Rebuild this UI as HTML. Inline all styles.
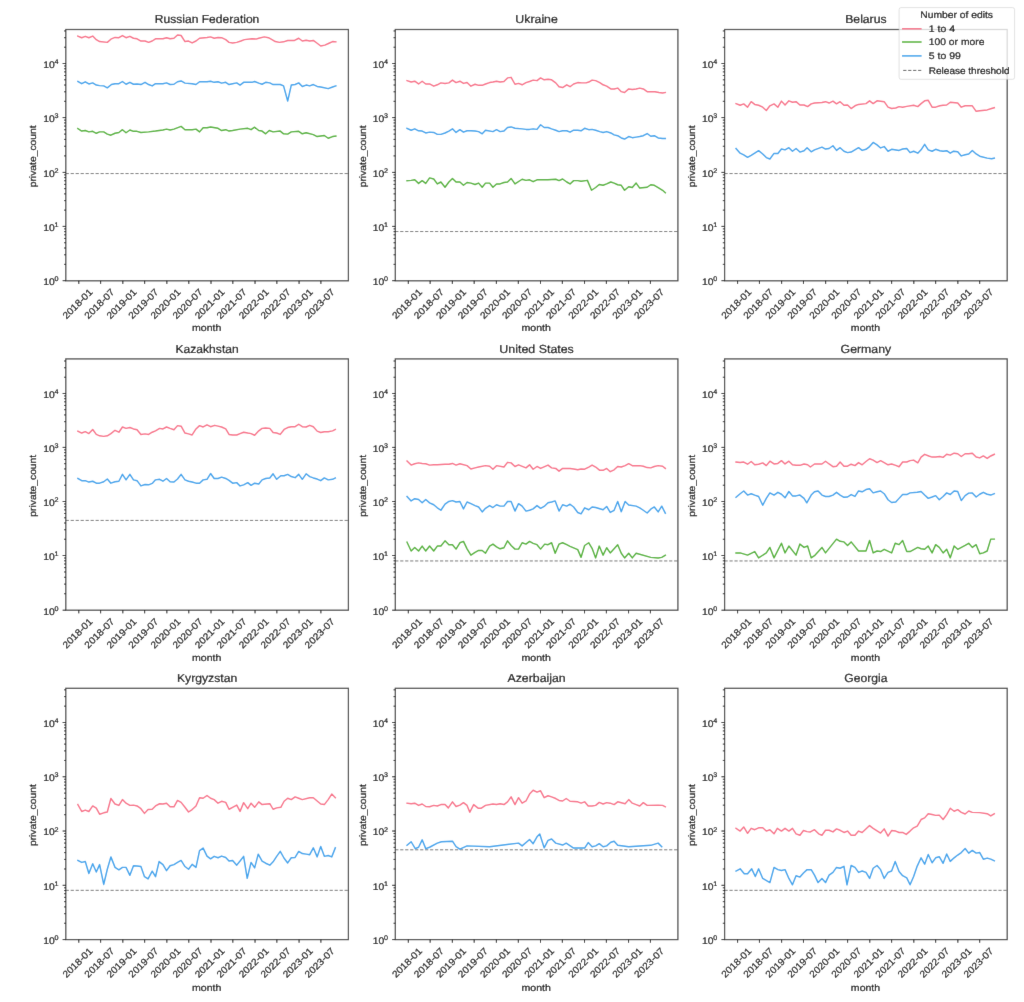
<!DOCTYPE html><html><head><meta charset="utf-8"><style>html,body{margin:0;padding:0;background:#fff;overflow:hidden}svg{display:block;will-change:transform}</style></head><body>
<svg width="1024" height="1002" viewBox="0 0 1024 1002" font-family='"Liberation Sans", sans-serif' text-rendering="geometricPrecision">
<style>text{stroke:#000;stroke-width:0.2px}</style>
<defs><filter id="sm" filterUnits="userSpaceOnUse" x="0" y="0" width="1024" height="1002"><feConvolveMatrix order="3" kernelMatrix="0.00524 0.06192 0.00524 0.06192 0.73137 0.06192 0.00524 0.06192 0.00524" preserveAlpha="false"/></filter></defs><g filter="url(#sm)">
<rect width="1024" height="1002" fill="#fff"/>
<line x1="65.8" y1="173.57" x2="348.4" y2="173.57" stroke="#666" stroke-width="0.9" stroke-dasharray="3.2 1.78" stroke-dashoffset="0.1"/>
<polyline points="77.84,36.06 81.7,37.71 85.28,36.33 88.86,37.71 92.71,36.06 96.29,39.64 99.6,41.57 107.31,42.39 111.44,38.81 115.02,37.44 118.88,37.71 122.46,35.51 126.04,37.71 129.89,36.33 133.47,38.26 137.05,38.81 140.91,41.02 145.04,41.02 148.62,42.39 152.2,41.02 155.5,38.81 162.94,38.81 166.52,37.71 170.1,38.81 173.95,38.26 177.53,34.96 181.11,35.51 184.97,41.57 188.55,41.02 192.13,42.94 195.98,41.02 199.56,38.26 207,37.44 210.58,36.88 214.16,38.26 218.02,37.44 221.6,37.71 225.73,39.64 229.03,42.39 232.61,42.94 236.74,42.39 240.87,41.02 244.45,39.64 251.89,38.81 256.02,39.09 258.77,38.26 264.28,36.88 268.41,37.71 271.99,39.64 275.3,41.57 279.43,42.39 283.56,41.84 287.69,40.46 294.57,40.46 298.71,38.26 302.29,41.02 306.14,40.19 309.72,41.02 313.3,40.46 317.16,43.22 320.74,45.97 324.87,45.15 329,43.22 332.58,41.57 335.88,41.84" fill="none" stroke="#f77189" stroke-width="1.45" stroke-linejoin="round" stroke-linecap="square"/>
<polyline points="77.84,81.5 81.7,83.7 85.28,81.77 88.86,83.98 92.71,82.88 96.29,85.08 99.6,85.63 103.73,85.9 107.31,87.83 111.44,84.53 115.02,83.7 118.88,83.7 122.46,81.5 126.04,84.25 129.89,82.32 133.47,84.25 137.05,83.98 140.91,84.53 145.04,82.32 148.62,84.53 152.2,85.9 155.5,83.7 162.94,83.7 166.52,82.88 170.1,84.53 173.95,84.25 177.53,81.77 181.11,80.95 184.97,83.15 192.13,83.7 195.98,84.53 199.56,81.77 207,81.77 210.58,81.22 214.16,82.32 218.02,81.77 221.6,83.15 225.73,82.32 229.03,84.53 232.61,83.7 236.74,82.88 240.05,85.08 243.63,82.32 251.89,82.32 254.64,81.5 258.77,83.15 262.08,84.25 265.66,82.32 269.79,82.88 273.09,84.53 280.25,84.53 283.56,85.9 287.69,101.05 291.27,85.08 295.12,84.53 298.71,82.88 302.29,86.46 306.14,85.08 309.72,85.9 313.3,84.53 317.16,86.46 320.74,87.01 328.17,88.66 332.58,87.01 335.88,85.9" fill="none" stroke="#3ba3ec" stroke-width="1.45" stroke-linejoin="round" stroke-linecap="square"/>
<polyline points="77.84,128.59 81.7,131.07 85.28,130.52 88.86,131.89 92.71,131.34 96.29,133.27 99.6,131.89 103.73,131.89 107.31,134.1 110.89,135.2 115.02,133.27 118.88,132.45 122.46,129.69 126.04,132.72 129.89,129.97 133.47,131.34 137.05,131.34 140.91,132.45 148.62,131.89 155.5,131.07 162.94,129.97 166.52,129.14 170.1,129.97 173.95,129.14 181.11,126.39 184.97,129.69 192.13,129.69 195.98,129.14 199.56,131.89 203.14,127.76 207,127.76 210.58,126.94 218.02,128.31 221.6,130.52 225.73,129.69 229.03,131.07 232.61,130.52 240.05,129.14 247.76,128.31 251.06,129.69 254.64,127.21 258.77,130.52 262.08,131.07 265.66,133.82 269.24,130.52 273.09,131.89 280.25,131.07 283.56,133.82 287.69,134.1 291.27,131.89 298.71,131.34 302.29,133.82 306.14,132.72 313.3,134.65 317.16,136.58 324.32,135.47 328.17,138.23 332.58,136.58 335.88,136.03" fill="none" stroke="#50b131" stroke-width="1.45" stroke-linejoin="round" stroke-linecap="square"/>
<rect x="65.8" y="29.5" width="282.6" height="251.3" fill="none" stroke="#444" stroke-width="1.25"/>
<path d="M62.64 280.7H65.8M62.64 226.39H65.8M62.64 172.4H65.8M62.64 117.6H65.8M62.64 63.51H65.8M78.8 280.8V283.96M100.63 280.8V283.96M122.83 280.8V283.96M144.66 280.8V283.96M166.86 280.8V283.96M188.81 280.8V283.96M211.01 280.8V283.96M232.84 280.8V283.96M255.04 280.8V283.96M276.87 280.8V283.96M299.07 280.8V283.96M320.9 280.8V283.96" stroke="#000" stroke-width="0.95" fill="none"/>
<path d="M64 264.35H65.8M64 254.79H65.8M64 248H65.8M64 242.74H65.8M64 238.44H65.8M64 234.8H65.8M64 231.65H65.8M64 228.88H65.8M64 210.14H65.8M64 200.63H65.8M64 193.88H65.8M64 188.65H65.8M64 184.38H65.8M64 180.76H65.8M64 177.63H65.8M64 174.87H65.8M64 155.9H65.8M64 146.25H65.8M64 139.41H65.8M64 134.1H65.8M64 129.76H65.8M64 126.09H65.8M64 122.91H65.8M64 120.11H65.8M64 101.32H65.8M64 91.79H65.8M64 85.03H65.8M64 79.79H65.8M64 75.51H65.8M64 71.89H65.8M64 68.75H65.8M64 65.99H65.8M64 47.23H65.8M64 37.7H65.8M64 30.94H65.8" stroke="#000" stroke-width="0.85" fill="none"/>
<text x="43.30" y="285.10" text-anchor="start" font-size="9.57" textLength="11.49" lengthAdjust="spacingAndGlyphs" fill="#000">10</text><text x="54.40" y="281.30" text-anchor="start" font-size="6.70" textLength="4.02" lengthAdjust="spacingAndGlyphs" fill="#000">0</text><text x="43.30" y="230.79" text-anchor="start" font-size="9.57" textLength="11.49" lengthAdjust="spacingAndGlyphs" fill="#000">10</text><text x="54.40" y="226.99" text-anchor="start" font-size="6.70" textLength="4.02" lengthAdjust="spacingAndGlyphs" fill="#000">1</text><text x="43.30" y="176.80" text-anchor="start" font-size="9.57" textLength="11.49" lengthAdjust="spacingAndGlyphs" fill="#000">10</text><text x="54.40" y="173.00" text-anchor="start" font-size="6.70" textLength="4.02" lengthAdjust="spacingAndGlyphs" fill="#000">2</text><text x="43.30" y="122.00" text-anchor="start" font-size="9.57" textLength="11.49" lengthAdjust="spacingAndGlyphs" fill="#000">10</text><text x="54.40" y="118.20" text-anchor="start" font-size="6.70" textLength="4.02" lengthAdjust="spacingAndGlyphs" fill="#000">3</text><text x="43.30" y="67.91" text-anchor="start" font-size="9.57" textLength="11.49" lengthAdjust="spacingAndGlyphs" fill="#000">10</text><text x="54.40" y="64.11" text-anchor="start" font-size="6.70" textLength="4.02" lengthAdjust="spacingAndGlyphs" fill="#000">4</text><text x="0.00" y="3.30" transform="translate(77.50,303.80) rotate(-45)" text-anchor="middle" font-size="9.57" textLength="37.73" lengthAdjust="spacingAndGlyphs" fill="#000">2018-01</text><text x="0.00" y="3.30" transform="translate(99.33,303.80) rotate(-45)" text-anchor="middle" font-size="9.57" textLength="37.73" lengthAdjust="spacingAndGlyphs" fill="#000">2018-07</text><text x="0.00" y="3.30" transform="translate(121.53,303.80) rotate(-45)" text-anchor="middle" font-size="9.57" textLength="37.73" lengthAdjust="spacingAndGlyphs" fill="#000">2019-01</text><text x="0.00" y="3.30" transform="translate(143.36,303.80) rotate(-45)" text-anchor="middle" font-size="9.57" textLength="37.73" lengthAdjust="spacingAndGlyphs" fill="#000">2019-07</text><text x="0.00" y="3.30" transform="translate(165.56,303.80) rotate(-45)" text-anchor="middle" font-size="9.57" textLength="37.73" lengthAdjust="spacingAndGlyphs" fill="#000">2020-01</text><text x="0.00" y="3.30" transform="translate(187.51,303.80) rotate(-45)" text-anchor="middle" font-size="9.57" textLength="37.73" lengthAdjust="spacingAndGlyphs" fill="#000">2020-07</text><text x="0.00" y="3.30" transform="translate(209.71,303.80) rotate(-45)" text-anchor="middle" font-size="9.57" textLength="37.73" lengthAdjust="spacingAndGlyphs" fill="#000">2021-01</text><text x="0.00" y="3.30" transform="translate(231.54,303.80) rotate(-45)" text-anchor="middle" font-size="9.57" textLength="37.73" lengthAdjust="spacingAndGlyphs" fill="#000">2021-07</text><text x="0.00" y="3.30" transform="translate(253.74,303.80) rotate(-45)" text-anchor="middle" font-size="9.57" textLength="37.73" lengthAdjust="spacingAndGlyphs" fill="#000">2022-01</text><text x="0.00" y="3.30" transform="translate(275.57,303.80) rotate(-45)" text-anchor="middle" font-size="9.57" textLength="37.73" lengthAdjust="spacingAndGlyphs" fill="#000">2022-07</text><text x="0.00" y="3.30" transform="translate(297.77,303.80) rotate(-45)" text-anchor="middle" font-size="9.57" textLength="37.73" lengthAdjust="spacingAndGlyphs" fill="#000">2023-01</text><text x="0.00" y="3.30" transform="translate(319.60,303.80) rotate(-45)" text-anchor="middle" font-size="9.57" textLength="37.73" lengthAdjust="spacingAndGlyphs" fill="#000">2023-07</text>
<text x="207.10" y="23.10" text-anchor="middle" font-size="11.66" textLength="104.43" lengthAdjust="spacingAndGlyphs" fill="#000">Russian Federation</text>
<text x="206.70" y="331.10" text-anchor="middle" font-size="9.57" textLength="29.31" lengthAdjust="spacingAndGlyphs" fill="#000">month</text>
<text x="0.00" y="0.00" transform="translate(36.30,156.35) rotate(-90)" text-anchor="middle" font-size="9.57" textLength="61.92" lengthAdjust="spacingAndGlyphs" fill="#000">private_count</text>
<line x1="395.3" y1="231.54" x2="677.9" y2="231.54" stroke="#666" stroke-width="0.9" stroke-dasharray="3.2 1.78" stroke-dashoffset="0.1"/>
<polyline points="407.02,80.65 411.15,82.03 414.73,81.21 418.58,83.96 422.16,81.21 425.74,83.96 429.6,83.96 433.73,86.16 437.31,84.79 440.89,82.86 445.02,83.41 448.88,82.86 452.46,80.1 456.04,82.58 459.89,81.21 463.47,83.41 467.05,82.58 470.91,86.16 475.04,84.23 478.62,85.34 482.2,85.34 485.5,83.96 489.63,82.58 492.94,82.03 496.52,81.21 500.1,82.03 503.95,81.48 507.53,77.9 511.11,77.35 514.97,84.23 518.55,83.41 522.13,84.79 525.98,82.58 529.56,81.48 533.14,80.1 537,80.65 540.58,77.9 544.16,79.83 548.02,79.28 551.6,79.83 555.73,82.86 559.03,86.71 562.61,87.54 566.74,84.79 570.05,86.71 573.63,83.96 577.76,82.58 581.89,82.86 586.02,82.86 588.77,82.03 592.08,80.1 595.66,80.65 599.79,82.58 603.09,84.79 606.67,86.16 610.8,88.92 614.11,88.92 617.69,88.09 621.27,91.67 624.57,92.5 628.71,88.92 632.29,89.47 636.14,88.92 639.72,88.09 643.3,88.92 647.16,91.67 650.74,91.67 654.87,91.67 659,92.5 662.58,93.05 665.33,92.5" fill="none" stroke="#f77189" stroke-width="1.45" stroke-linejoin="round" stroke-linecap="square"/>
<polyline points="407.02,128.3 411.15,130.22 414.73,128.85 418.58,130.78 422.16,131.05 425.74,132.98 429.6,132.15 433.73,132.43 437.31,134.36 440.89,134.36 445.02,132.98 448.88,131.05 452.46,128.85 456.04,132.43 459.89,129.67 463.47,132.15 467.05,130.78 470.91,130.78 475.04,131.05 478.62,131.6 482.2,133.8 485.5,130.22 492.94,131.6 496.52,129.67 500.1,131.6 503.95,131.05 507.53,127.47 511.11,126.92 514.97,128.3 522.13,128.85 525.98,129.4 529.56,129.4 533.14,128.85 537,129.4 540.58,124.72 544.16,127.47 548.02,127.47 551.6,128.85 555.73,130.22 559.03,131.6 562.61,130.78 566.74,130.78 570.05,132.15 573.63,130.22 577.76,130.22 581.06,130.78 584.64,128.3 588.77,129.67 592.08,129.4 595.66,130.22 599.79,131.6 603.09,132.43 606.67,131.6 610.8,132.98 614.11,134.91 617.69,135.73 621.27,137.94 624.57,139.04 628.71,136.56 632.29,137.66 636.14,137.11 639.72,136.56 643.3,135.73 647.16,133.53 650.74,136.28 654.32,135.73 658.17,137.94 662.58,138.49 665.33,138.49" fill="none" stroke="#3ba3ec" stroke-width="1.45" stroke-linejoin="round" stroke-linecap="square"/>
<polyline points="407.02,180.62 411.15,180.35 414.73,179.79 418.58,183.38 422.16,180.62 425.74,183.38 429.6,177.87 433.73,178.97 437.31,183.93 440.89,182 445.02,187.23 448.88,182 452.46,178.42 456.04,182 459.89,182 463.47,185.3 467.05,182.55 470.91,183.1 475.04,184.48 478.62,183.1 482.2,187.23 485.5,183.1 489.63,183.1 492.94,187.23 496.52,183.93 500.1,183.93 503.95,182.55 507.53,182 511.11,178.42 514.97,183.93 522.13,179.24 525.98,180.35 529.56,179.79 533.14,181.72 537,179.79 548.02,179.79 555.73,179.24 559.03,180.62 562.61,178.97 566.74,182 570.05,183.93 573.63,180.62 577.76,180.62 581.06,181.17 587.4,180.35 591.53,190.26 595.66,187.51 599.24,184.48 603.09,185.3 606.67,183.93 610.8,182 614.11,183.1 617.69,184.75 621.27,185.3 624.57,190.26 628.71,186.68 632.29,187.51 636.14,183.1 639.72,188.06 647.16,187.23 650.74,184.75 654.32,185.3 658.17,187.51 662.58,190.26 665.33,192.74" fill="none" stroke="#50b131" stroke-width="1.45" stroke-linejoin="round" stroke-linecap="square"/>
<rect x="395.3" y="29.5" width="282.6" height="251.3" fill="none" stroke="#444" stroke-width="1.25"/>
<path d="M392.14 280.7H395.3M392.14 226.39H395.3M392.14 172.4H395.3M392.14 117.6H395.3M392.14 63.51H395.3M408.3 280.8V283.96M430.13 280.8V283.96M452.33 280.8V283.96M474.16 280.8V283.96M496.36 280.8V283.96M518.31 280.8V283.96M540.51 280.8V283.96M562.34 280.8V283.96M584.54 280.8V283.96M606.37 280.8V283.96M628.57 280.8V283.96M650.4 280.8V283.96" stroke="#000" stroke-width="0.95" fill="none"/>
<path d="M393.5 264.35H395.3M393.5 254.79H395.3M393.5 248H395.3M393.5 242.74H395.3M393.5 238.44H395.3M393.5 234.8H395.3M393.5 231.65H395.3M393.5 228.88H395.3M393.5 210.14H395.3M393.5 200.63H395.3M393.5 193.88H395.3M393.5 188.65H395.3M393.5 184.38H395.3M393.5 180.76H395.3M393.5 177.63H395.3M393.5 174.87H395.3M393.5 155.9H395.3M393.5 146.25H395.3M393.5 139.41H395.3M393.5 134.1H395.3M393.5 129.76H395.3M393.5 126.09H395.3M393.5 122.91H395.3M393.5 120.11H395.3M393.5 101.32H395.3M393.5 91.79H395.3M393.5 85.03H395.3M393.5 79.79H395.3M393.5 75.51H395.3M393.5 71.89H395.3M393.5 68.75H395.3M393.5 65.99H395.3M393.5 47.23H395.3M393.5 37.7H395.3M393.5 30.94H395.3" stroke="#000" stroke-width="0.85" fill="none"/>
<text x="372.80" y="285.10" text-anchor="start" font-size="9.57" textLength="11.49" lengthAdjust="spacingAndGlyphs" fill="#000">10</text><text x="383.90" y="281.30" text-anchor="start" font-size="6.70" textLength="4.02" lengthAdjust="spacingAndGlyphs" fill="#000">0</text><text x="372.80" y="230.79" text-anchor="start" font-size="9.57" textLength="11.49" lengthAdjust="spacingAndGlyphs" fill="#000">10</text><text x="383.90" y="226.99" text-anchor="start" font-size="6.70" textLength="4.02" lengthAdjust="spacingAndGlyphs" fill="#000">1</text><text x="372.80" y="176.80" text-anchor="start" font-size="9.57" textLength="11.49" lengthAdjust="spacingAndGlyphs" fill="#000">10</text><text x="383.90" y="173.00" text-anchor="start" font-size="6.70" textLength="4.02" lengthAdjust="spacingAndGlyphs" fill="#000">2</text><text x="372.80" y="122.00" text-anchor="start" font-size="9.57" textLength="11.49" lengthAdjust="spacingAndGlyphs" fill="#000">10</text><text x="383.90" y="118.20" text-anchor="start" font-size="6.70" textLength="4.02" lengthAdjust="spacingAndGlyphs" fill="#000">3</text><text x="372.80" y="67.91" text-anchor="start" font-size="9.57" textLength="11.49" lengthAdjust="spacingAndGlyphs" fill="#000">10</text><text x="383.90" y="64.11" text-anchor="start" font-size="6.70" textLength="4.02" lengthAdjust="spacingAndGlyphs" fill="#000">4</text><text x="0.00" y="3.30" transform="translate(407.00,303.80) rotate(-45)" text-anchor="middle" font-size="9.57" textLength="37.73" lengthAdjust="spacingAndGlyphs" fill="#000">2018-01</text><text x="0.00" y="3.30" transform="translate(428.83,303.80) rotate(-45)" text-anchor="middle" font-size="9.57" textLength="37.73" lengthAdjust="spacingAndGlyphs" fill="#000">2018-07</text><text x="0.00" y="3.30" transform="translate(451.03,303.80) rotate(-45)" text-anchor="middle" font-size="9.57" textLength="37.73" lengthAdjust="spacingAndGlyphs" fill="#000">2019-01</text><text x="0.00" y="3.30" transform="translate(472.86,303.80) rotate(-45)" text-anchor="middle" font-size="9.57" textLength="37.73" lengthAdjust="spacingAndGlyphs" fill="#000">2019-07</text><text x="0.00" y="3.30" transform="translate(495.06,303.80) rotate(-45)" text-anchor="middle" font-size="9.57" textLength="37.73" lengthAdjust="spacingAndGlyphs" fill="#000">2020-01</text><text x="0.00" y="3.30" transform="translate(517.01,303.80) rotate(-45)" text-anchor="middle" font-size="9.57" textLength="37.73" lengthAdjust="spacingAndGlyphs" fill="#000">2020-07</text><text x="0.00" y="3.30" transform="translate(539.21,303.80) rotate(-45)" text-anchor="middle" font-size="9.57" textLength="37.73" lengthAdjust="spacingAndGlyphs" fill="#000">2021-01</text><text x="0.00" y="3.30" transform="translate(561.04,303.80) rotate(-45)" text-anchor="middle" font-size="9.57" textLength="37.73" lengthAdjust="spacingAndGlyphs" fill="#000">2021-07</text><text x="0.00" y="3.30" transform="translate(583.24,303.80) rotate(-45)" text-anchor="middle" font-size="9.57" textLength="37.73" lengthAdjust="spacingAndGlyphs" fill="#000">2022-01</text><text x="0.00" y="3.30" transform="translate(605.07,303.80) rotate(-45)" text-anchor="middle" font-size="9.57" textLength="37.73" lengthAdjust="spacingAndGlyphs" fill="#000">2022-07</text><text x="0.00" y="3.30" transform="translate(627.27,303.80) rotate(-45)" text-anchor="middle" font-size="9.57" textLength="37.73" lengthAdjust="spacingAndGlyphs" fill="#000">2023-01</text><text x="0.00" y="3.30" transform="translate(649.10,303.80) rotate(-45)" text-anchor="middle" font-size="9.57" textLength="37.73" lengthAdjust="spacingAndGlyphs" fill="#000">2023-07</text>
<text x="536.60" y="23.10" text-anchor="middle" font-size="11.66" textLength="42.48" lengthAdjust="spacingAndGlyphs" fill="#000">Ukraine</text>
<text x="536.20" y="331.10" text-anchor="middle" font-size="9.57" textLength="29.31" lengthAdjust="spacingAndGlyphs" fill="#000">month</text>
<text x="0.00" y="0.00" transform="translate(365.80,156.35) rotate(-90)" text-anchor="middle" font-size="9.57" textLength="61.92" lengthAdjust="spacingAndGlyphs" fill="#000">private_count</text>
<line x1="724.6" y1="173.57" x2="1007.2" y2="173.57" stroke="#666" stroke-width="0.9" stroke-dasharray="3.2 1.78" stroke-dashoffset="0.1"/>
<polyline points="736.02,103.6 740.15,105.25 743.73,103.87 747.58,107.18 751.16,101.67 754.74,104.42 758.6,105.25 762.73,107.18 766.31,110.48 769.89,105.8 774.02,103.87 777.88,107.18 781.46,101.12 785.04,104.97 788.89,100.84 792.47,102.22 796.05,101.67 799.91,104.97 804.04,104.97 807.62,106.63 811.2,103.87 814.5,103.05 821.94,102.5 825.52,101.67 829.1,103.05 832.95,101.12 836.53,103.87 840.11,101.67 843.97,105.25 847.55,104.97 851.13,108.55 854.98,105.8 858.56,104.42 866,103.6 869.58,100.84 873.16,103.6 877.02,100.84 884.18,101.67 888.03,107.18 891.61,108.55 895.74,108 899.05,106.63 902.63,107.18 906.76,106.35 913.64,105.25 917.77,106.63 921.08,103.6 924.66,100.84 928.24,100.29 932.09,107.18 935.67,107.18 939.8,105.8 943.11,105.25 946.69,104.97 950.27,102.22 957.71,103.05 961.29,107.18 965.14,105.8 972.3,105.8 976.16,111.31 979.74,110.76 987.17,109.93 991.58,108.55 994.33,107.73" fill="none" stroke="#f77189" stroke-width="1.45" stroke-linejoin="round" stroke-linecap="square"/>
<polyline points="736.02,148.49 740.15,153.17 743.73,154.82 747.58,157.3 751.16,155.37 754.74,153.17 758.6,150.69 762.73,153.99 766.31,157.57 769.89,158.95 774.02,153.44 777.88,153.44 781.46,149.04 785.04,149.86 788.89,147.66 792.47,151.24 796.05,148.49 799.91,152.07 804.04,150.69 807.07,147.66 811.2,151.79 814.5,149.86 821.94,147.11 825.52,149.04 829.1,148.49 832.95,145.73 836.53,150.41 840.11,147.66 843.97,151.24 847.55,152.62 851.13,152.07 858.56,147.66 862.14,150.41 866,149.31 869.58,146.56 873.16,142.43 877.02,144.91 880.6,147.94 884.18,146.56 888.03,151.24 891.61,149.31 899.05,150.41 902.63,149.04 906.76,148.49 910.06,152.62 913.64,151.24 917.77,153.17 921.08,149.86 924.66,144.36 928.24,149.86 932.09,151.24 935.67,149.31 939.8,150.69 943.11,151.24 946.69,150.69 950.27,153.17 953.57,151.24 957.71,151.79 961.29,155.92 965.14,154.82 968.72,153.99 972.3,150.41 976.16,153.99 979.74,156.2 987.17,158.12 991.58,158.68 994.33,158.12" fill="none" stroke="#3ba3ec" stroke-width="1.45" stroke-linejoin="round" stroke-linecap="square"/>
<rect x="724.6" y="29.5" width="282.6" height="251.3" fill="none" stroke="#444" stroke-width="1.25"/>
<path d="M721.44 280.7H724.6M721.44 226.39H724.6M721.44 172.4H724.6M721.44 117.6H724.6M721.44 63.51H724.6M737.6 280.8V283.96M759.43 280.8V283.96M781.63 280.8V283.96M803.46 280.8V283.96M825.66 280.8V283.96M847.61 280.8V283.96M869.81 280.8V283.96M891.64 280.8V283.96M913.84 280.8V283.96M935.67 280.8V283.96M957.87 280.8V283.96M979.7 280.8V283.96" stroke="#000" stroke-width="0.95" fill="none"/>
<path d="M722.8 264.35H724.6M722.8 254.79H724.6M722.8 248H724.6M722.8 242.74H724.6M722.8 238.44H724.6M722.8 234.8H724.6M722.8 231.65H724.6M722.8 228.88H724.6M722.8 210.14H724.6M722.8 200.63H724.6M722.8 193.88H724.6M722.8 188.65H724.6M722.8 184.38H724.6M722.8 180.76H724.6M722.8 177.63H724.6M722.8 174.87H724.6M722.8 155.9H724.6M722.8 146.25H724.6M722.8 139.41H724.6M722.8 134.1H724.6M722.8 129.76H724.6M722.8 126.09H724.6M722.8 122.91H724.6M722.8 120.11H724.6M722.8 101.32H724.6M722.8 91.79H724.6M722.8 85.03H724.6M722.8 79.79H724.6M722.8 75.51H724.6M722.8 71.89H724.6M722.8 68.75H724.6M722.8 65.99H724.6M722.8 47.23H724.6M722.8 37.7H724.6M722.8 30.94H724.6" stroke="#000" stroke-width="0.85" fill="none"/>
<text x="702.10" y="285.10" text-anchor="start" font-size="9.57" textLength="11.49" lengthAdjust="spacingAndGlyphs" fill="#000">10</text><text x="713.20" y="281.30" text-anchor="start" font-size="6.70" textLength="4.02" lengthAdjust="spacingAndGlyphs" fill="#000">0</text><text x="702.10" y="230.79" text-anchor="start" font-size="9.57" textLength="11.49" lengthAdjust="spacingAndGlyphs" fill="#000">10</text><text x="713.20" y="226.99" text-anchor="start" font-size="6.70" textLength="4.02" lengthAdjust="spacingAndGlyphs" fill="#000">1</text><text x="702.10" y="176.80" text-anchor="start" font-size="9.57" textLength="11.49" lengthAdjust="spacingAndGlyphs" fill="#000">10</text><text x="713.20" y="173.00" text-anchor="start" font-size="6.70" textLength="4.02" lengthAdjust="spacingAndGlyphs" fill="#000">2</text><text x="702.10" y="122.00" text-anchor="start" font-size="9.57" textLength="11.49" lengthAdjust="spacingAndGlyphs" fill="#000">10</text><text x="713.20" y="118.20" text-anchor="start" font-size="6.70" textLength="4.02" lengthAdjust="spacingAndGlyphs" fill="#000">3</text><text x="702.10" y="67.91" text-anchor="start" font-size="9.57" textLength="11.49" lengthAdjust="spacingAndGlyphs" fill="#000">10</text><text x="713.20" y="64.11" text-anchor="start" font-size="6.70" textLength="4.02" lengthAdjust="spacingAndGlyphs" fill="#000">4</text><text x="0.00" y="3.30" transform="translate(736.30,303.80) rotate(-45)" text-anchor="middle" font-size="9.57" textLength="37.73" lengthAdjust="spacingAndGlyphs" fill="#000">2018-01</text><text x="0.00" y="3.30" transform="translate(758.13,303.80) rotate(-45)" text-anchor="middle" font-size="9.57" textLength="37.73" lengthAdjust="spacingAndGlyphs" fill="#000">2018-07</text><text x="0.00" y="3.30" transform="translate(780.33,303.80) rotate(-45)" text-anchor="middle" font-size="9.57" textLength="37.73" lengthAdjust="spacingAndGlyphs" fill="#000">2019-01</text><text x="0.00" y="3.30" transform="translate(802.16,303.80) rotate(-45)" text-anchor="middle" font-size="9.57" textLength="37.73" lengthAdjust="spacingAndGlyphs" fill="#000">2019-07</text><text x="0.00" y="3.30" transform="translate(824.36,303.80) rotate(-45)" text-anchor="middle" font-size="9.57" textLength="37.73" lengthAdjust="spacingAndGlyphs" fill="#000">2020-01</text><text x="0.00" y="3.30" transform="translate(846.31,303.80) rotate(-45)" text-anchor="middle" font-size="9.57" textLength="37.73" lengthAdjust="spacingAndGlyphs" fill="#000">2020-07</text><text x="0.00" y="3.30" transform="translate(868.51,303.80) rotate(-45)" text-anchor="middle" font-size="9.57" textLength="37.73" lengthAdjust="spacingAndGlyphs" fill="#000">2021-01</text><text x="0.00" y="3.30" transform="translate(890.34,303.80) rotate(-45)" text-anchor="middle" font-size="9.57" textLength="37.73" lengthAdjust="spacingAndGlyphs" fill="#000">2021-07</text><text x="0.00" y="3.30" transform="translate(912.54,303.80) rotate(-45)" text-anchor="middle" font-size="9.57" textLength="37.73" lengthAdjust="spacingAndGlyphs" fill="#000">2022-01</text><text x="0.00" y="3.30" transform="translate(934.37,303.80) rotate(-45)" text-anchor="middle" font-size="9.57" textLength="37.73" lengthAdjust="spacingAndGlyphs" fill="#000">2022-07</text><text x="0.00" y="3.30" transform="translate(956.57,303.80) rotate(-45)" text-anchor="middle" font-size="9.57" textLength="37.73" lengthAdjust="spacingAndGlyphs" fill="#000">2023-01</text><text x="0.00" y="3.30" transform="translate(978.40,303.80) rotate(-45)" text-anchor="middle" font-size="9.57" textLength="37.73" lengthAdjust="spacingAndGlyphs" fill="#000">2023-07</text>
<text x="865.90" y="23.10" text-anchor="middle" font-size="11.66" textLength="41.34" lengthAdjust="spacingAndGlyphs" fill="#000">Belarus</text>
<text x="865.50" y="331.10" text-anchor="middle" font-size="9.57" textLength="29.31" lengthAdjust="spacingAndGlyphs" fill="#000">month</text>
<text x="0.00" y="0.00" transform="translate(695.10,156.35) rotate(-90)" text-anchor="middle" font-size="9.57" textLength="61.92" lengthAdjust="spacingAndGlyphs" fill="#000">private_count</text>
<line x1="65.8" y1="520.41" x2="348.4" y2="520.41" stroke="#666" stroke-width="0.9" stroke-dasharray="3.2 1.78" stroke-dashoffset="0.1"/>
<polyline points="77.84,431.12 81.7,433.05 85.28,431.67 88.86,433.6 92.71,429.47 96.29,434.42 99.6,435.8 103.73,436.35 107.31,435.8 110.89,433.6 115.02,430.29 118.88,432.22 122.46,426.99 126.04,428.37 129.89,427.54 133.47,428.92 137.05,429.74 140.91,434.42 145.04,433.87 148.62,434.42 152.2,432.22 155.5,430.84 159.63,428.37 162.94,428.92 166.52,426.99 170.1,428.37 173.95,429.74 177.53,425.61 181.11,426.16 184.97,433.05 188.55,433.87 192.13,434.97 195.98,428.92 199.56,425.61 203.14,426.99 207,424.79 210.58,426.71 214.71,425.34 218.02,426.16 221.6,426.99 225.73,428.92 229.03,434.42 232.61,434.97 236.74,434.97 240.05,433.6 243.63,432.22 247.76,433.05 251.06,433.6 254.64,435.25 258.77,430.84 262.08,428.37 265.66,428.09 269.79,428.37 273.09,432.5 276.67,433.05 280.25,434.42 284.11,429.47 287.69,427.54 291.27,426.71 295.12,426.71 298.71,424.23 302.29,426.71 306.14,426.99 309.72,425.34 313.3,426.71 317.16,431.12 320.74,432.5 324.32,431.67 328.17,431.67 332.58,430.84 335.33,429.47" fill="none" stroke="#f77189" stroke-width="1.45" stroke-linejoin="round" stroke-linecap="square"/>
<polyline points="77.84,478.49 81.7,480.69 85.28,480.69 88.86,482.07 92.71,481.24 96.29,483.17 99.6,483.17 103.73,481.79 107.31,479.04 110.89,483.17 115.02,481.79 118.88,481.24 122.46,474.36 126.04,479.86 129.89,474.36 133.47,479.86 137.05,480.69 140.91,485.92 145.04,484.54 148.62,484.82 152.2,483.44 155.5,479.86 159.63,479.31 162.94,481.24 166.52,478.49 170.1,481.79 173.95,482.07 177.53,479.04 181.11,474.36 184.97,479.86 188.55,481.24 192.13,482.07 195.98,483.17 199.56,483.17 203.14,479.86 207,479.31 210.58,473.53 214.16,478.49 218.02,478.49 221.6,477.11 225.73,478.49 229.03,480.41 232.61,483.17 236.74,482.62 240.05,485.92 243.63,484.82 247.76,482.62 251.06,485.37 254.64,483.17 258.77,483.99 262.08,479.86 265.66,478.49 269.79,477.94 273.09,473.8 276.67,479.31 280.8,475.73 284.11,475.73 287.69,474.36 291.27,476.56 295.12,477.66 298.71,474.36 302.29,479.31 306.14,473.8 309.72,476.56 313.3,477.94 317.16,479.04 320.74,480.69 324.32,477.94 328.17,479.86 332.58,479.31 335.33,477.94" fill="none" stroke="#3ba3ec" stroke-width="1.45" stroke-linejoin="round" stroke-linecap="square"/>
<rect x="65.8" y="358.9" width="282.6" height="251.3" fill="none" stroke="#444" stroke-width="1.25"/>
<path d="M62.64 610.2H65.8M62.64 555.51H65.8M62.64 501.51H65.8M62.64 447.39H65.8M62.64 393.47H65.8M78.8 610.2V613.36M100.63 610.2V613.36M122.83 610.2V613.36M144.66 610.2V613.36M166.86 610.2V613.36M188.81 610.2V613.36M211.01 610.2V613.36M232.84 610.2V613.36M255.04 610.2V613.36M276.87 610.2V613.36M299.07 610.2V613.36M320.9 610.2V613.36" stroke="#000" stroke-width="0.95" fill="none"/>
<path d="M64 593.74H65.8M64 584.11H65.8M64 577.27H65.8M64 571.97H65.8M64 567.64H65.8M64 563.98H65.8M64 560.81H65.8M64 558.01H65.8M64 539.25H65.8M64 529.75H65.8M64 523H65.8M64 517.77H65.8M64 513.49H65.8M64 509.87H65.8M64 506.74H65.8M64 503.98H65.8M64 485.22H65.8M64 475.69H65.8M64 468.93H65.8M64 463.68H65.8M64 459.4H65.8M64 455.77H65.8M64 452.63H65.8M64 449.87H65.8M64 431.16H65.8M64 421.66H65.8M64 414.93H65.8M64 409.7H65.8M64 405.43H65.8M64 401.82H65.8M64 398.7H65.8M64 395.94H65.8M64 377.24H65.8M64 367.74H65.8M64 361.01H65.8" stroke="#000" stroke-width="0.85" fill="none"/>
<text x="43.30" y="614.60" text-anchor="start" font-size="9.57" textLength="11.49" lengthAdjust="spacingAndGlyphs" fill="#000">10</text><text x="54.40" y="610.80" text-anchor="start" font-size="6.70" textLength="4.02" lengthAdjust="spacingAndGlyphs" fill="#000">0</text><text x="43.30" y="559.91" text-anchor="start" font-size="9.57" textLength="11.49" lengthAdjust="spacingAndGlyphs" fill="#000">10</text><text x="54.40" y="556.11" text-anchor="start" font-size="6.70" textLength="4.02" lengthAdjust="spacingAndGlyphs" fill="#000">1</text><text x="43.30" y="505.91" text-anchor="start" font-size="9.57" textLength="11.49" lengthAdjust="spacingAndGlyphs" fill="#000">10</text><text x="54.40" y="502.11" text-anchor="start" font-size="6.70" textLength="4.02" lengthAdjust="spacingAndGlyphs" fill="#000">2</text><text x="43.30" y="451.79" text-anchor="start" font-size="9.57" textLength="11.49" lengthAdjust="spacingAndGlyphs" fill="#000">10</text><text x="54.40" y="447.99" text-anchor="start" font-size="6.70" textLength="4.02" lengthAdjust="spacingAndGlyphs" fill="#000">3</text><text x="43.30" y="397.87" text-anchor="start" font-size="9.57" textLength="11.49" lengthAdjust="spacingAndGlyphs" fill="#000">10</text><text x="54.40" y="394.07" text-anchor="start" font-size="6.70" textLength="4.02" lengthAdjust="spacingAndGlyphs" fill="#000">4</text><text x="0.00" y="3.30" transform="translate(77.50,633.20) rotate(-45)" text-anchor="middle" font-size="9.57" textLength="37.73" lengthAdjust="spacingAndGlyphs" fill="#000">2018-01</text><text x="0.00" y="3.30" transform="translate(99.33,633.20) rotate(-45)" text-anchor="middle" font-size="9.57" textLength="37.73" lengthAdjust="spacingAndGlyphs" fill="#000">2018-07</text><text x="0.00" y="3.30" transform="translate(121.53,633.20) rotate(-45)" text-anchor="middle" font-size="9.57" textLength="37.73" lengthAdjust="spacingAndGlyphs" fill="#000">2019-01</text><text x="0.00" y="3.30" transform="translate(143.36,633.20) rotate(-45)" text-anchor="middle" font-size="9.57" textLength="37.73" lengthAdjust="spacingAndGlyphs" fill="#000">2019-07</text><text x="0.00" y="3.30" transform="translate(165.56,633.20) rotate(-45)" text-anchor="middle" font-size="9.57" textLength="37.73" lengthAdjust="spacingAndGlyphs" fill="#000">2020-01</text><text x="0.00" y="3.30" transform="translate(187.51,633.20) rotate(-45)" text-anchor="middle" font-size="9.57" textLength="37.73" lengthAdjust="spacingAndGlyphs" fill="#000">2020-07</text><text x="0.00" y="3.30" transform="translate(209.71,633.20) rotate(-45)" text-anchor="middle" font-size="9.57" textLength="37.73" lengthAdjust="spacingAndGlyphs" fill="#000">2021-01</text><text x="0.00" y="3.30" transform="translate(231.54,633.20) rotate(-45)" text-anchor="middle" font-size="9.57" textLength="37.73" lengthAdjust="spacingAndGlyphs" fill="#000">2021-07</text><text x="0.00" y="3.30" transform="translate(253.74,633.20) rotate(-45)" text-anchor="middle" font-size="9.57" textLength="37.73" lengthAdjust="spacingAndGlyphs" fill="#000">2022-01</text><text x="0.00" y="3.30" transform="translate(275.57,633.20) rotate(-45)" text-anchor="middle" font-size="9.57" textLength="37.73" lengthAdjust="spacingAndGlyphs" fill="#000">2022-07</text><text x="0.00" y="3.30" transform="translate(297.77,633.20) rotate(-45)" text-anchor="middle" font-size="9.57" textLength="37.73" lengthAdjust="spacingAndGlyphs" fill="#000">2023-01</text><text x="0.00" y="3.30" transform="translate(319.60,633.20) rotate(-45)" text-anchor="middle" font-size="9.57" textLength="37.73" lengthAdjust="spacingAndGlyphs" fill="#000">2023-07</text>
<text x="207.10" y="352.50" text-anchor="middle" font-size="11.66" textLength="63.37" lengthAdjust="spacingAndGlyphs" fill="#000">Kazakhstan</text>
<text x="206.70" y="660.90" text-anchor="middle" font-size="9.57" textLength="29.31" lengthAdjust="spacingAndGlyphs" fill="#000">month</text>
<text x="0.00" y="0.00" transform="translate(36.30,485.75) rotate(-90)" text-anchor="middle" font-size="9.57" textLength="61.92" lengthAdjust="spacingAndGlyphs" fill="#000">private_count</text>
<line x1="395.3" y1="560.94" x2="677.9" y2="560.94" stroke="#666" stroke-width="0.9" stroke-dasharray="3.2 1.78" stroke-dashoffset="0.1"/>
<polyline points="407.02,460.97 411.15,465.1 414.73,463.73 418.58,462.9 422.16,463.45 425.74,463.73 429.6,465.1 433.73,464.83 437.31,464.83 445.02,464.28 448.88,464.28 452.46,463.45 456.04,465.1 459.89,463.73 467.05,465.65 470.91,468.96 475.04,467.86 478.62,467.03 485.5,465.65 489.63,466.21 492.94,469.23 496.52,465.65 503.95,467.03 507.53,462.35 511.11,462.9 514.97,466.48 518.55,464.83 525.98,467.86 529.56,464.83 533.14,469.23 537,466.48 540.58,468.41 548.02,465.1 551.6,467.86 555.73,468.41 559.03,471.16 562.61,468.41 570.05,468.41 573.63,468.96 577.76,469.79 581.06,468.96 584.64,469.23 588.77,467.03 592.08,465.1 595.66,467.03 599.79,470.34 603.09,470.34 606.67,468.41 610.25,471.71 614.11,469.79 617.69,466.48 621.27,467.03 625.12,465.65 628.71,463.73 632.29,465.65 639.72,465.65 643.3,466.21 647.16,467.58 650.74,467.86 654.32,466.48 658.17,465.65 662.58,466.21 665.33,468.41" fill="none" stroke="#f77189" stroke-width="1.45" stroke-linejoin="round" stroke-linecap="square"/>
<polyline points="407.02,496.5 411.15,500.9 414.73,498.7 418.58,499.53 422.16,502.83 425.74,499.53 429.6,502.83 433.73,504.76 437.31,507.79 440.89,510.27 445.02,504.21 448.88,501.46 452.46,500.63 456.04,502.01 459.89,501.46 463.47,508.89 467.05,502.01 470.91,503.66 475.04,505.59 478.62,506.96 482.2,511.92 485.5,508.34 489.63,505.59 492.94,507.51 496.52,504.76 500.1,506.14 503.95,506.14 507.53,501.46 511.11,501.46 514.97,511.09 518.55,503.66 522.13,506.14 525.98,511.09 529.56,510.27 533.14,508.89 537,505.59 540.58,508.34 544.16,506.41 548.02,502.83 551.6,502.01 555.18,500.9 559.03,511.09 562.61,504.76 566.74,506.14 570.05,504.21 573.63,506.96 577.76,512.47 581.06,513.85 584.64,507.79 588.77,509.72 592.08,506.96 595.66,507.51 603.09,509.72 606.67,506.41 610.25,512.47 614.11,510.27 617.69,501.46 621.27,511.64 625.12,501.46 628.71,505.04 636.14,506.14 639.72,507.79 643.3,510.27 647.16,513.02 650.74,509.17 654.32,506.96 658.17,511.92 661.75,506.14 665.33,513.3" fill="none" stroke="#3ba3ec" stroke-width="1.45" stroke-linejoin="round" stroke-linecap="square"/>
<polyline points="407.02,542.21 411.15,551.03 414.73,547.45 418.58,551.03 422.16,546.07 425.74,551.03 429.6,546.07 433.73,551.03 437.31,546.07 440.89,546.07 445.02,540.84 448.88,544.69 452.46,544.69 456.04,549.1 459.89,542.76 463.47,541.39 467.05,548.82 470.91,555.16 475.04,552.4 478.62,550.47 482.2,550.47 485.5,553.23 489.63,546.07 492.94,544.14 496.52,546.89 500.1,548.82 503.95,547.72 507.53,540.84 511.11,545.52 514.97,549.1 518.55,549.1 522.13,542.76 525.98,544.14 529.56,541.39 533.14,543.31 537,544.69 540.58,549.1 544.71,544.14 548.02,544.69 551.6,542.76 555.18,553.23 559.03,544.14 562.61,542.76 566.74,544.69 570.05,546.34 577.76,549.65 581.06,557.36 584.64,545.52 588.77,542.76 592.08,548.27 595.66,557.91 599.24,546.07 603.09,555.16 606.67,547.72 610.25,552.95 617.69,544.69 621.27,553.23 624.57,557.91 628.71,553.23 632.29,557.91 636.14,553.23 650.74,557.36 658.17,557.91 661.75,557.36 665.33,555.16" fill="none" stroke="#50b131" stroke-width="1.45" stroke-linejoin="round" stroke-linecap="square"/>
<rect x="395.3" y="358.9" width="282.6" height="251.3" fill="none" stroke="#444" stroke-width="1.25"/>
<path d="M392.14 610.2H395.3M392.14 555.51H395.3M392.14 501.51H395.3M392.14 447.39H395.3M392.14 393.47H395.3M408.3 610.2V613.36M430.13 610.2V613.36M452.33 610.2V613.36M474.16 610.2V613.36M496.36 610.2V613.36M518.31 610.2V613.36M540.51 610.2V613.36M562.34 610.2V613.36M584.54 610.2V613.36M606.37 610.2V613.36M628.57 610.2V613.36M650.4 610.2V613.36" stroke="#000" stroke-width="0.95" fill="none"/>
<path d="M393.5 593.74H395.3M393.5 584.11H395.3M393.5 577.27H395.3M393.5 571.97H395.3M393.5 567.64H395.3M393.5 563.98H395.3M393.5 560.81H395.3M393.5 558.01H395.3M393.5 539.25H395.3M393.5 529.75H395.3M393.5 523H395.3M393.5 517.77H395.3M393.5 513.49H395.3M393.5 509.87H395.3M393.5 506.74H395.3M393.5 503.98H395.3M393.5 485.22H395.3M393.5 475.69H395.3M393.5 468.93H395.3M393.5 463.68H395.3M393.5 459.4H395.3M393.5 455.77H395.3M393.5 452.63H395.3M393.5 449.87H395.3M393.5 431.16H395.3M393.5 421.66H395.3M393.5 414.93H395.3M393.5 409.7H395.3M393.5 405.43H395.3M393.5 401.82H395.3M393.5 398.7H395.3M393.5 395.94H395.3M393.5 377.24H395.3M393.5 367.74H395.3M393.5 361.01H395.3" stroke="#000" stroke-width="0.85" fill="none"/>
<text x="372.80" y="614.60" text-anchor="start" font-size="9.57" textLength="11.49" lengthAdjust="spacingAndGlyphs" fill="#000">10</text><text x="383.90" y="610.80" text-anchor="start" font-size="6.70" textLength="4.02" lengthAdjust="spacingAndGlyphs" fill="#000">0</text><text x="372.80" y="559.91" text-anchor="start" font-size="9.57" textLength="11.49" lengthAdjust="spacingAndGlyphs" fill="#000">10</text><text x="383.90" y="556.11" text-anchor="start" font-size="6.70" textLength="4.02" lengthAdjust="spacingAndGlyphs" fill="#000">1</text><text x="372.80" y="505.91" text-anchor="start" font-size="9.57" textLength="11.49" lengthAdjust="spacingAndGlyphs" fill="#000">10</text><text x="383.90" y="502.11" text-anchor="start" font-size="6.70" textLength="4.02" lengthAdjust="spacingAndGlyphs" fill="#000">2</text><text x="372.80" y="451.79" text-anchor="start" font-size="9.57" textLength="11.49" lengthAdjust="spacingAndGlyphs" fill="#000">10</text><text x="383.90" y="447.99" text-anchor="start" font-size="6.70" textLength="4.02" lengthAdjust="spacingAndGlyphs" fill="#000">3</text><text x="372.80" y="397.87" text-anchor="start" font-size="9.57" textLength="11.49" lengthAdjust="spacingAndGlyphs" fill="#000">10</text><text x="383.90" y="394.07" text-anchor="start" font-size="6.70" textLength="4.02" lengthAdjust="spacingAndGlyphs" fill="#000">4</text><text x="0.00" y="3.30" transform="translate(407.00,633.20) rotate(-45)" text-anchor="middle" font-size="9.57" textLength="37.73" lengthAdjust="spacingAndGlyphs" fill="#000">2018-01</text><text x="0.00" y="3.30" transform="translate(428.83,633.20) rotate(-45)" text-anchor="middle" font-size="9.57" textLength="37.73" lengthAdjust="spacingAndGlyphs" fill="#000">2018-07</text><text x="0.00" y="3.30" transform="translate(451.03,633.20) rotate(-45)" text-anchor="middle" font-size="9.57" textLength="37.73" lengthAdjust="spacingAndGlyphs" fill="#000">2019-01</text><text x="0.00" y="3.30" transform="translate(472.86,633.20) rotate(-45)" text-anchor="middle" font-size="9.57" textLength="37.73" lengthAdjust="spacingAndGlyphs" fill="#000">2019-07</text><text x="0.00" y="3.30" transform="translate(495.06,633.20) rotate(-45)" text-anchor="middle" font-size="9.57" textLength="37.73" lengthAdjust="spacingAndGlyphs" fill="#000">2020-01</text><text x="0.00" y="3.30" transform="translate(517.01,633.20) rotate(-45)" text-anchor="middle" font-size="9.57" textLength="37.73" lengthAdjust="spacingAndGlyphs" fill="#000">2020-07</text><text x="0.00" y="3.30" transform="translate(539.21,633.20) rotate(-45)" text-anchor="middle" font-size="9.57" textLength="37.73" lengthAdjust="spacingAndGlyphs" fill="#000">2021-01</text><text x="0.00" y="3.30" transform="translate(561.04,633.20) rotate(-45)" text-anchor="middle" font-size="9.57" textLength="37.73" lengthAdjust="spacingAndGlyphs" fill="#000">2021-07</text><text x="0.00" y="3.30" transform="translate(583.24,633.20) rotate(-45)" text-anchor="middle" font-size="9.57" textLength="37.73" lengthAdjust="spacingAndGlyphs" fill="#000">2022-01</text><text x="0.00" y="3.30" transform="translate(605.07,633.20) rotate(-45)" text-anchor="middle" font-size="9.57" textLength="37.73" lengthAdjust="spacingAndGlyphs" fill="#000">2022-07</text><text x="0.00" y="3.30" transform="translate(627.27,633.20) rotate(-45)" text-anchor="middle" font-size="9.57" textLength="37.73" lengthAdjust="spacingAndGlyphs" fill="#000">2023-01</text><text x="0.00" y="3.30" transform="translate(649.10,633.20) rotate(-45)" text-anchor="middle" font-size="9.57" textLength="37.73" lengthAdjust="spacingAndGlyphs" fill="#000">2023-07</text>
<text x="536.60" y="352.50" text-anchor="middle" font-size="11.66" textLength="74.49" lengthAdjust="spacingAndGlyphs" fill="#000">United States</text>
<text x="536.20" y="660.90" text-anchor="middle" font-size="9.57" textLength="29.31" lengthAdjust="spacingAndGlyphs" fill="#000">month</text>
<text x="0.00" y="0.00" transform="translate(365.80,485.75) rotate(-90)" text-anchor="middle" font-size="9.57" textLength="61.92" lengthAdjust="spacingAndGlyphs" fill="#000">private_count</text>
<line x1="724.6" y1="560.94" x2="1007.2" y2="560.94" stroke="#666" stroke-width="0.9" stroke-dasharray="3.2 1.78" stroke-dashoffset="0.1"/>
<polyline points="736.02,462.03 740.15,462.58 743.73,462.03 747.58,464.23 751.16,461.48 754.74,464.79 758.6,464.23 762.73,462.86 766.31,465.61 769.89,461.21 774.02,463.96 777.88,463.41 781.46,460.65 785.04,463.96 788.89,461.21 792.47,464.79 796.05,465.34 799.91,465.34 804.04,463.96 807.62,464.79 810.37,466.99 814.5,463.96 821.94,463.96 825.52,461.21 829.1,463.96 832.95,466.71 836.53,466.16 840.11,462.03 843.97,466.16 847.55,466.16 851.13,464.23 854.98,465.61 858.56,462.58 862.14,464.79 866,461.48 869.58,458.73 873.16,460.1 877.02,462.58 880.6,460.65 884.18,462.58 888.03,464.79 891.61,463.96 895.74,465.34 899.05,466.71 902.63,462.03 906.76,462.03 910.06,460.65 913.64,460.1 917.77,462.86 921.08,457.07 924.66,454.32 928.79,455.97 932.09,457.07 935.67,457.07 939.8,456.52 943.11,457.35 946.69,454.32 950.27,455.15 954.12,453.22 957.71,453.77 961.29,456.52 965.14,453.77 968.72,453.77 972.3,453.22 976.16,457.07 979.74,457.9 983.32,455.97 987.17,458.45 990.75,455.97 994.33,454.32" fill="none" stroke="#f77189" stroke-width="1.45" stroke-linejoin="round" stroke-linecap="square"/>
<polyline points="736.02,497.28 740.15,493.7 743.73,490.95 747.58,495.08 751.16,493.7 754.74,495.08 758.6,496.46 762.73,505.27 766.31,498.38 769.89,492.88 774.02,495.08 777.88,492.32 781.46,494.25 785.04,497.83 788.89,491.5 792.47,495.9 796.05,495.9 799.91,495.08 804.04,498.38 806.79,502.79 811.2,495.08 814.5,491.77 818.08,490.95 821.94,495.08 825.52,496.46 829.1,496.46 832.95,495.08 836.53,492.32 840.11,495.08 843.97,497.28 847.55,497.01 851.13,494.53 854.98,496.46 858.56,490.95 862.14,491.77 866,489.57 869.58,488.74 873.16,492.88 877.02,491.77 880.6,490.95 884.18,493.7 888.03,499.76 891.61,502.51 895.74,501.96 899.05,498.38 902.63,494.53 906.76,494.53 910.06,492.88 917.22,492.32 921.08,491.5 924.66,495.08 928.24,498.38 932.09,497.01 935.67,495.63 939.25,499.76 943.11,496.46 946.69,492.88 950.27,494.53 954.12,490.95 957.71,491.5 961.29,500.59 965.14,495.63 968.72,493.15 972.3,492.88 976.16,497.01 979.74,494.25 983.32,492.32 987.17,494.25 990.75,495.08 994.33,493.7" fill="none" stroke="#3ba3ec" stroke-width="1.45" stroke-linejoin="round" stroke-linecap="square"/>
<polyline points="736.02,552.91 740.15,552.91 747.58,555.11 754.74,551.53 758.6,557.87 766.31,552.91 769.89,547.4 774.02,557.87 781.46,543.27 785.04,552.91 788.89,546.03 796.05,555.11 799.91,544.1 804.04,547.4 807.62,546.03 811.2,557.87 814.5,555.66 821.94,547.4 825.52,552.91 836.53,539.14 840.11,541.34 843.97,541.89 847.55,545.47 851.13,541.89 858.56,550.98 866,550.98 869.58,540.52 873.16,552.91 877.02,550.98 880.6,551.53 884.18,549.33 891.61,552.91 895.19,543.27 899.05,544.65 902.63,540.52 906.76,551.53 910.06,551.53 917.77,547.4 921.08,548.78 924.66,549.33 928.24,546.03 932.09,552.91 935.67,544.65 939.25,547.4 943.11,552.91 946.69,549.33 950.27,557.87 954.12,546.03 957.71,549.33 965.14,545.47 968.72,543.27 972.3,547.4 976.16,544.65 979.74,553.74 983.32,552.91 987.17,550.98 990.75,539.14 994.33,539.14" fill="none" stroke="#50b131" stroke-width="1.45" stroke-linejoin="round" stroke-linecap="square"/>
<rect x="724.6" y="358.9" width="282.6" height="251.3" fill="none" stroke="#444" stroke-width="1.25"/>
<path d="M721.44 610.2H724.6M721.44 555.51H724.6M721.44 501.51H724.6M721.44 447.39H724.6M721.44 393.47H724.6M737.6 610.2V613.36M759.43 610.2V613.36M781.63 610.2V613.36M803.46 610.2V613.36M825.66 610.2V613.36M847.61 610.2V613.36M869.81 610.2V613.36M891.64 610.2V613.36M913.84 610.2V613.36M935.67 610.2V613.36M957.87 610.2V613.36M979.7 610.2V613.36" stroke="#000" stroke-width="0.95" fill="none"/>
<path d="M722.8 593.74H724.6M722.8 584.11H724.6M722.8 577.27H724.6M722.8 571.97H724.6M722.8 567.64H724.6M722.8 563.98H724.6M722.8 560.81H724.6M722.8 558.01H724.6M722.8 539.25H724.6M722.8 529.75H724.6M722.8 523H724.6M722.8 517.77H724.6M722.8 513.49H724.6M722.8 509.87H724.6M722.8 506.74H724.6M722.8 503.98H724.6M722.8 485.22H724.6M722.8 475.69H724.6M722.8 468.93H724.6M722.8 463.68H724.6M722.8 459.4H724.6M722.8 455.77H724.6M722.8 452.63H724.6M722.8 449.87H724.6M722.8 431.16H724.6M722.8 421.66H724.6M722.8 414.93H724.6M722.8 409.7H724.6M722.8 405.43H724.6M722.8 401.82H724.6M722.8 398.7H724.6M722.8 395.94H724.6M722.8 377.24H724.6M722.8 367.74H724.6M722.8 361.01H724.6" stroke="#000" stroke-width="0.85" fill="none"/>
<text x="702.10" y="614.60" text-anchor="start" font-size="9.57" textLength="11.49" lengthAdjust="spacingAndGlyphs" fill="#000">10</text><text x="713.20" y="610.80" text-anchor="start" font-size="6.70" textLength="4.02" lengthAdjust="spacingAndGlyphs" fill="#000">0</text><text x="702.10" y="559.91" text-anchor="start" font-size="9.57" textLength="11.49" lengthAdjust="spacingAndGlyphs" fill="#000">10</text><text x="713.20" y="556.11" text-anchor="start" font-size="6.70" textLength="4.02" lengthAdjust="spacingAndGlyphs" fill="#000">1</text><text x="702.10" y="505.91" text-anchor="start" font-size="9.57" textLength="11.49" lengthAdjust="spacingAndGlyphs" fill="#000">10</text><text x="713.20" y="502.11" text-anchor="start" font-size="6.70" textLength="4.02" lengthAdjust="spacingAndGlyphs" fill="#000">2</text><text x="702.10" y="451.79" text-anchor="start" font-size="9.57" textLength="11.49" lengthAdjust="spacingAndGlyphs" fill="#000">10</text><text x="713.20" y="447.99" text-anchor="start" font-size="6.70" textLength="4.02" lengthAdjust="spacingAndGlyphs" fill="#000">3</text><text x="702.10" y="397.87" text-anchor="start" font-size="9.57" textLength="11.49" lengthAdjust="spacingAndGlyphs" fill="#000">10</text><text x="713.20" y="394.07" text-anchor="start" font-size="6.70" textLength="4.02" lengthAdjust="spacingAndGlyphs" fill="#000">4</text><text x="0.00" y="3.30" transform="translate(736.30,633.20) rotate(-45)" text-anchor="middle" font-size="9.57" textLength="37.73" lengthAdjust="spacingAndGlyphs" fill="#000">2018-01</text><text x="0.00" y="3.30" transform="translate(758.13,633.20) rotate(-45)" text-anchor="middle" font-size="9.57" textLength="37.73" lengthAdjust="spacingAndGlyphs" fill="#000">2018-07</text><text x="0.00" y="3.30" transform="translate(780.33,633.20) rotate(-45)" text-anchor="middle" font-size="9.57" textLength="37.73" lengthAdjust="spacingAndGlyphs" fill="#000">2019-01</text><text x="0.00" y="3.30" transform="translate(802.16,633.20) rotate(-45)" text-anchor="middle" font-size="9.57" textLength="37.73" lengthAdjust="spacingAndGlyphs" fill="#000">2019-07</text><text x="0.00" y="3.30" transform="translate(824.36,633.20) rotate(-45)" text-anchor="middle" font-size="9.57" textLength="37.73" lengthAdjust="spacingAndGlyphs" fill="#000">2020-01</text><text x="0.00" y="3.30" transform="translate(846.31,633.20) rotate(-45)" text-anchor="middle" font-size="9.57" textLength="37.73" lengthAdjust="spacingAndGlyphs" fill="#000">2020-07</text><text x="0.00" y="3.30" transform="translate(868.51,633.20) rotate(-45)" text-anchor="middle" font-size="9.57" textLength="37.73" lengthAdjust="spacingAndGlyphs" fill="#000">2021-01</text><text x="0.00" y="3.30" transform="translate(890.34,633.20) rotate(-45)" text-anchor="middle" font-size="9.57" textLength="37.73" lengthAdjust="spacingAndGlyphs" fill="#000">2021-07</text><text x="0.00" y="3.30" transform="translate(912.54,633.20) rotate(-45)" text-anchor="middle" font-size="9.57" textLength="37.73" lengthAdjust="spacingAndGlyphs" fill="#000">2022-01</text><text x="0.00" y="3.30" transform="translate(934.37,633.20) rotate(-45)" text-anchor="middle" font-size="9.57" textLength="37.73" lengthAdjust="spacingAndGlyphs" fill="#000">2022-07</text><text x="0.00" y="3.30" transform="translate(956.57,633.20) rotate(-45)" text-anchor="middle" font-size="9.57" textLength="37.73" lengthAdjust="spacingAndGlyphs" fill="#000">2023-01</text><text x="0.00" y="3.30" transform="translate(978.40,633.20) rotate(-45)" text-anchor="middle" font-size="9.57" textLength="37.73" lengthAdjust="spacingAndGlyphs" fill="#000">2023-07</text>
<text x="865.90" y="352.50" text-anchor="middle" font-size="11.66" textLength="50.56" lengthAdjust="spacingAndGlyphs" fill="#000">Germany</text>
<text x="865.50" y="660.90" text-anchor="middle" font-size="9.57" textLength="29.31" lengthAdjust="spacingAndGlyphs" fill="#000">month</text>
<text x="0.00" y="0.00" transform="translate(695.10,485.75) rotate(-90)" text-anchor="middle" font-size="9.57" textLength="61.92" lengthAdjust="spacingAndGlyphs" fill="#000">private_count</text>
<line x1="65.8" y1="890.34" x2="348.4" y2="890.34" stroke="#666" stroke-width="0.9" stroke-dasharray="3.2 1.78" stroke-dashoffset="0.1"/>
<polyline points="77.84,804.57 81.7,811.46 85.28,810.08 88.86,811.46 92.71,805.95 96.29,808.15 99.6,814.21 103.73,812.83 107.31,812.01 110.89,798.51 115.02,804.02 118.88,805.4 122.46,799.61 126.04,803.19 129.89,805.4 133.47,805.12 137.05,805.95 140.91,808.7 144.49,813.38 148.07,809.53 152.2,809.25 155.5,805.95 159.63,803.74 162.94,804.02 166.52,803.19 170.1,806.77 173.95,806.77 177.53,800.44 181.11,802.37 184.97,807.32 188.55,812.01 192.13,809.53 195.98,805.95 199.56,797.69 203.14,798.24 207,795.48 210.58,798.24 214.16,799.61 218.02,803.19 221.6,801.27 225.73,802.37 229.03,809.25 232.61,807.32 236.74,805.12 240.05,811.46 243.63,802.64 247.76,808.7 251.06,803.19 254.64,807.32 258.77,801.82 262.08,804.57 269.79,803.74 273.09,809.25 276.67,807.88 280.8,807.32 284.11,801.27 287.69,798.24 291.27,799.61 295.12,796.86 298.71,798.24 302.29,799.61 309.72,797.69 313.3,797.69 317.16,800.99 320.74,804.02 324.32,804.57 328.17,799.61 331.75,794.11 335.33,797.69" fill="none" stroke="#f77189" stroke-width="1.45" stroke-linejoin="round" stroke-linecap="square"/>
<polyline points="77.84,860.47 81.7,862.4 85.28,861.58 88.86,873.42 92.71,863.78 96.29,872.04 99.6,864.61 103.73,884.43 107.31,869.29 110.89,856.89 115.02,867.36 118.88,869.84 122.46,867.36 126.04,867.36 129.89,875.35 133.47,865.71 137.05,865.98 140.91,866.53 144.49,876.72 148.07,878.93 152.2,871.21 155.5,876.72 159.08,861.58 162.94,864.61 166.52,870.66 170.1,865.71 173.95,864.61 177.53,862.4 181.11,860.47 184.97,866.53 188.55,869.29 192.13,864.33 195.98,867.36 199.56,850.56 203.14,848.08 207,856.07 210.58,858.82 214.16,856.34 218.02,857.72 221.6,856.07 225.73,857.45 229.03,861.03 232.61,860.47 236.74,865.16 240.05,861.03 243.63,856.34 247.21,878.38 251.06,862.4 254.64,867.91 258.22,854.14 262.08,861.03 265.66,863.23 269.79,865.16 273.09,861.85 276.67,856.34 280.25,851.39 284.11,858.27 287.69,862.95 291.27,857.72 295.12,857.45 298.71,851.39 302.29,853.59 306.14,854.14 309.72,854.69 313.3,847.81 317.16,856.89 320.74,846.43 324.32,856.34 328.17,855.52 331.75,856.89 335.33,847.81" fill="none" stroke="#3ba3ec" stroke-width="1.45" stroke-linejoin="round" stroke-linecap="square"/>
<rect x="65.8" y="688.3" width="282.6" height="251.3" fill="none" stroke="#444" stroke-width="1.25"/>
<path d="M62.64 939.6H65.8M62.64 885.31H65.8M62.64 831.04H65.8M62.64 776.78H65.8M62.64 722.51H65.8M78.8 939.6V942.76M100.63 939.6V942.76M122.83 939.6V942.76M144.66 939.6V942.76M166.86 939.6V942.76M188.81 939.6V942.76M211.01 939.6V942.76M232.84 939.6V942.76M255.04 939.6V942.76M276.87 939.6V942.76M299.07 939.6V942.76M320.9 939.6V942.76" stroke="#000" stroke-width="0.95" fill="none"/>
<path d="M64 923.26H65.8M64 913.7H65.8M64 906.91H65.8M64 901.65H65.8M64 897.35H65.8M64 893.72H65.8M64 890.57H65.8M64 887.79H65.8M64 868.97H65.8M64 859.42H65.8M64 852.64H65.8M64 847.38H65.8M64 843.08H65.8M64 839.45H65.8M64 836.3H65.8M64 833.52H65.8M64 814.71H65.8M64 805.15H65.8M64 798.37H65.8M64 793.11H65.8M64 788.82H65.8M64 785.18H65.8M64 782.04H65.8M64 779.26H65.8M64 760.44H65.8M64 750.89H65.8M64 744.11H65.8M64 738.85H65.8M64 734.55H65.8M64 730.92H65.8M64 727.77H65.8M64 724.99H65.8M64 706.17H65.8M64 696.62H65.8M64 689.84H65.8" stroke="#000" stroke-width="0.85" fill="none"/>
<text x="43.30" y="944.00" text-anchor="start" font-size="9.57" textLength="11.49" lengthAdjust="spacingAndGlyphs" fill="#000">10</text><text x="54.40" y="940.20" text-anchor="start" font-size="6.70" textLength="4.02" lengthAdjust="spacingAndGlyphs" fill="#000">0</text><text x="43.30" y="889.71" text-anchor="start" font-size="9.57" textLength="11.49" lengthAdjust="spacingAndGlyphs" fill="#000">10</text><text x="54.40" y="885.91" text-anchor="start" font-size="6.70" textLength="4.02" lengthAdjust="spacingAndGlyphs" fill="#000">1</text><text x="43.30" y="835.44" text-anchor="start" font-size="9.57" textLength="11.49" lengthAdjust="spacingAndGlyphs" fill="#000">10</text><text x="54.40" y="831.64" text-anchor="start" font-size="6.70" textLength="4.02" lengthAdjust="spacingAndGlyphs" fill="#000">2</text><text x="43.30" y="781.18" text-anchor="start" font-size="9.57" textLength="11.49" lengthAdjust="spacingAndGlyphs" fill="#000">10</text><text x="54.40" y="777.38" text-anchor="start" font-size="6.70" textLength="4.02" lengthAdjust="spacingAndGlyphs" fill="#000">3</text><text x="43.30" y="726.91" text-anchor="start" font-size="9.57" textLength="11.49" lengthAdjust="spacingAndGlyphs" fill="#000">10</text><text x="54.40" y="723.11" text-anchor="start" font-size="6.70" textLength="4.02" lengthAdjust="spacingAndGlyphs" fill="#000">4</text><text x="0.00" y="3.30" transform="translate(77.50,962.60) rotate(-45)" text-anchor="middle" font-size="9.57" textLength="37.73" lengthAdjust="spacingAndGlyphs" fill="#000">2018-01</text><text x="0.00" y="3.30" transform="translate(99.33,962.60) rotate(-45)" text-anchor="middle" font-size="9.57" textLength="37.73" lengthAdjust="spacingAndGlyphs" fill="#000">2018-07</text><text x="0.00" y="3.30" transform="translate(121.53,962.60) rotate(-45)" text-anchor="middle" font-size="9.57" textLength="37.73" lengthAdjust="spacingAndGlyphs" fill="#000">2019-01</text><text x="0.00" y="3.30" transform="translate(143.36,962.60) rotate(-45)" text-anchor="middle" font-size="9.57" textLength="37.73" lengthAdjust="spacingAndGlyphs" fill="#000">2019-07</text><text x="0.00" y="3.30" transform="translate(165.56,962.60) rotate(-45)" text-anchor="middle" font-size="9.57" textLength="37.73" lengthAdjust="spacingAndGlyphs" fill="#000">2020-01</text><text x="0.00" y="3.30" transform="translate(187.51,962.60) rotate(-45)" text-anchor="middle" font-size="9.57" textLength="37.73" lengthAdjust="spacingAndGlyphs" fill="#000">2020-07</text><text x="0.00" y="3.30" transform="translate(209.71,962.60) rotate(-45)" text-anchor="middle" font-size="9.57" textLength="37.73" lengthAdjust="spacingAndGlyphs" fill="#000">2021-01</text><text x="0.00" y="3.30" transform="translate(231.54,962.60) rotate(-45)" text-anchor="middle" font-size="9.57" textLength="37.73" lengthAdjust="spacingAndGlyphs" fill="#000">2021-07</text><text x="0.00" y="3.30" transform="translate(253.74,962.60) rotate(-45)" text-anchor="middle" font-size="9.57" textLength="37.73" lengthAdjust="spacingAndGlyphs" fill="#000">2022-01</text><text x="0.00" y="3.30" transform="translate(275.57,962.60) rotate(-45)" text-anchor="middle" font-size="9.57" textLength="37.73" lengthAdjust="spacingAndGlyphs" fill="#000">2022-07</text><text x="0.00" y="3.30" transform="translate(297.77,962.60) rotate(-45)" text-anchor="middle" font-size="9.57" textLength="37.73" lengthAdjust="spacingAndGlyphs" fill="#000">2023-01</text><text x="0.00" y="3.30" transform="translate(319.60,962.60) rotate(-45)" text-anchor="middle" font-size="9.57" textLength="37.73" lengthAdjust="spacingAndGlyphs" fill="#000">2023-07</text>
<text x="207.10" y="681.90" text-anchor="middle" font-size="11.66" textLength="60.27" lengthAdjust="spacingAndGlyphs" fill="#000">Kyrgyzstan</text>
<text x="206.70" y="990.90" text-anchor="middle" font-size="9.57" textLength="29.31" lengthAdjust="spacingAndGlyphs" fill="#000">month</text>
<text x="0.00" y="0.00" transform="translate(36.30,815.15) rotate(-90)" text-anchor="middle" font-size="9.57" textLength="61.92" lengthAdjust="spacingAndGlyphs" fill="#000">private_count</text>
<line x1="395.3" y1="849.81" x2="677.9" y2="849.81" stroke="#666" stroke-width="0.9" stroke-dasharray="3.2 1.78" stroke-dashoffset="0.1"/>
<polyline points="407.02,803.19 411.15,803.74 414.73,803.19 418.58,805.4 422.16,804.02 425.74,806.5 429.6,806.77 433.73,805.4 437.31,805.95 440.89,804.57 445.02,804.57 448.32,807.88 452.46,801.82 456.04,806.5 459.89,805.12 463.47,802.64 467.05,805.4 469.8,812.28 473.66,804.57 478.07,808.15 481.37,808.15 485.5,805.4 492.94,804.02 496.52,804.57 500.1,803.74 503.95,804.57 507.53,801.82 511.11,796.86 514.97,804.57 518.55,797.69 522.13,803.19 525.98,800.99 529.56,794.11 533.14,790.25 537,792.18 540.58,790.8 544.16,797.69 548.02,795.76 551.6,796.86 555.73,798.51 559.03,800.44 562.61,800.99 566.19,798.51 570.05,801.27 577.76,801.82 581.06,803.19 584.64,801.82 588.22,805.95 592.08,805.95 595.66,805.4 599.24,802.37 603.09,804.02 606.67,802.64 610.25,803.19 614.11,804.57 617.69,801.82 625.12,803.74 628.71,799.61 632.29,803.19 636.14,804.57 639.72,805.95 643.3,802.64 647.16,805.4 658.17,805.12 662.58,805.4 665.33,806.77" fill="none" stroke="#f77189" stroke-width="1.45" stroke-linejoin="round" stroke-linecap="square"/>
<polyline points="407.02,845.33 411.15,841.75 415.28,848.63 418.58,847.26 422.16,839.82 425.74,848.63 429.6,847.26 437.31,843.12 441.44,841.75 452.46,841.2 456.04,846.71 459.89,849.18 467.05,845.88 489.63,846.71 518.55,843.12 522.13,845.88 529.56,839.54 533.14,843.68 537,836.79 539.75,834.04 544.16,847.81 548.02,840.37 551.6,838.99 555.73,843.12 562.61,845.05 566.19,843.12 573.63,848.08 584.64,848.08 588.22,842.57 592.08,846.71 595.66,845.88 599.24,843.68 603.09,846.71 606.67,845.88 610.8,842.3 614.11,841.2 617.69,845.33 628.71,846.71 650.74,845.33 658.17,843.12 661.75,846.71" fill="none" stroke="#3ba3ec" stroke-width="1.45" stroke-linejoin="round" stroke-linecap="square"/>
<rect x="395.3" y="688.3" width="282.6" height="251.3" fill="none" stroke="#444" stroke-width="1.25"/>
<path d="M392.14 939.6H395.3M392.14 885.31H395.3M392.14 831.04H395.3M392.14 776.78H395.3M392.14 722.51H395.3M408.3 939.6V942.76M430.13 939.6V942.76M452.33 939.6V942.76M474.16 939.6V942.76M496.36 939.6V942.76M518.31 939.6V942.76M540.51 939.6V942.76M562.34 939.6V942.76M584.54 939.6V942.76M606.37 939.6V942.76M628.57 939.6V942.76M650.4 939.6V942.76" stroke="#000" stroke-width="0.95" fill="none"/>
<path d="M393.5 923.26H395.3M393.5 913.7H395.3M393.5 906.91H395.3M393.5 901.65H395.3M393.5 897.35H395.3M393.5 893.72H395.3M393.5 890.57H395.3M393.5 887.79H395.3M393.5 868.97H395.3M393.5 859.42H395.3M393.5 852.64H395.3M393.5 847.38H395.3M393.5 843.08H395.3M393.5 839.45H395.3M393.5 836.3H395.3M393.5 833.52H395.3M393.5 814.71H395.3M393.5 805.15H395.3M393.5 798.37H395.3M393.5 793.11H395.3M393.5 788.82H395.3M393.5 785.18H395.3M393.5 782.04H395.3M393.5 779.26H395.3M393.5 760.44H395.3M393.5 750.89H395.3M393.5 744.11H395.3M393.5 738.85H395.3M393.5 734.55H395.3M393.5 730.92H395.3M393.5 727.77H395.3M393.5 724.99H395.3M393.5 706.17H395.3M393.5 696.62H395.3M393.5 689.84H395.3" stroke="#000" stroke-width="0.85" fill="none"/>
<text x="372.80" y="944.00" text-anchor="start" font-size="9.57" textLength="11.49" lengthAdjust="spacingAndGlyphs" fill="#000">10</text><text x="383.90" y="940.20" text-anchor="start" font-size="6.70" textLength="4.02" lengthAdjust="spacingAndGlyphs" fill="#000">0</text><text x="372.80" y="889.71" text-anchor="start" font-size="9.57" textLength="11.49" lengthAdjust="spacingAndGlyphs" fill="#000">10</text><text x="383.90" y="885.91" text-anchor="start" font-size="6.70" textLength="4.02" lengthAdjust="spacingAndGlyphs" fill="#000">1</text><text x="372.80" y="835.44" text-anchor="start" font-size="9.57" textLength="11.49" lengthAdjust="spacingAndGlyphs" fill="#000">10</text><text x="383.90" y="831.64" text-anchor="start" font-size="6.70" textLength="4.02" lengthAdjust="spacingAndGlyphs" fill="#000">2</text><text x="372.80" y="781.18" text-anchor="start" font-size="9.57" textLength="11.49" lengthAdjust="spacingAndGlyphs" fill="#000">10</text><text x="383.90" y="777.38" text-anchor="start" font-size="6.70" textLength="4.02" lengthAdjust="spacingAndGlyphs" fill="#000">3</text><text x="372.80" y="726.91" text-anchor="start" font-size="9.57" textLength="11.49" lengthAdjust="spacingAndGlyphs" fill="#000">10</text><text x="383.90" y="723.11" text-anchor="start" font-size="6.70" textLength="4.02" lengthAdjust="spacingAndGlyphs" fill="#000">4</text><text x="0.00" y="3.30" transform="translate(407.00,962.60) rotate(-45)" text-anchor="middle" font-size="9.57" textLength="37.73" lengthAdjust="spacingAndGlyphs" fill="#000">2018-01</text><text x="0.00" y="3.30" transform="translate(428.83,962.60) rotate(-45)" text-anchor="middle" font-size="9.57" textLength="37.73" lengthAdjust="spacingAndGlyphs" fill="#000">2018-07</text><text x="0.00" y="3.30" transform="translate(451.03,962.60) rotate(-45)" text-anchor="middle" font-size="9.57" textLength="37.73" lengthAdjust="spacingAndGlyphs" fill="#000">2019-01</text><text x="0.00" y="3.30" transform="translate(472.86,962.60) rotate(-45)" text-anchor="middle" font-size="9.57" textLength="37.73" lengthAdjust="spacingAndGlyphs" fill="#000">2019-07</text><text x="0.00" y="3.30" transform="translate(495.06,962.60) rotate(-45)" text-anchor="middle" font-size="9.57" textLength="37.73" lengthAdjust="spacingAndGlyphs" fill="#000">2020-01</text><text x="0.00" y="3.30" transform="translate(517.01,962.60) rotate(-45)" text-anchor="middle" font-size="9.57" textLength="37.73" lengthAdjust="spacingAndGlyphs" fill="#000">2020-07</text><text x="0.00" y="3.30" transform="translate(539.21,962.60) rotate(-45)" text-anchor="middle" font-size="9.57" textLength="37.73" lengthAdjust="spacingAndGlyphs" fill="#000">2021-01</text><text x="0.00" y="3.30" transform="translate(561.04,962.60) rotate(-45)" text-anchor="middle" font-size="9.57" textLength="37.73" lengthAdjust="spacingAndGlyphs" fill="#000">2021-07</text><text x="0.00" y="3.30" transform="translate(583.24,962.60) rotate(-45)" text-anchor="middle" font-size="9.57" textLength="37.73" lengthAdjust="spacingAndGlyphs" fill="#000">2022-01</text><text x="0.00" y="3.30" transform="translate(605.07,962.60) rotate(-45)" text-anchor="middle" font-size="9.57" textLength="37.73" lengthAdjust="spacingAndGlyphs" fill="#000">2022-07</text><text x="0.00" y="3.30" transform="translate(627.27,962.60) rotate(-45)" text-anchor="middle" font-size="9.57" textLength="37.73" lengthAdjust="spacingAndGlyphs" fill="#000">2023-01</text><text x="0.00" y="3.30" transform="translate(649.10,962.60) rotate(-45)" text-anchor="middle" font-size="9.57" textLength="37.73" lengthAdjust="spacingAndGlyphs" fill="#000">2023-07</text>
<text x="536.60" y="681.90" text-anchor="middle" font-size="11.66" textLength="58.14" lengthAdjust="spacingAndGlyphs" fill="#000">Azerbaijan</text>
<text x="536.20" y="990.90" text-anchor="middle" font-size="9.57" textLength="29.31" lengthAdjust="spacingAndGlyphs" fill="#000">month</text>
<text x="0.00" y="0.00" transform="translate(365.80,815.15) rotate(-90)" text-anchor="middle" font-size="9.57" textLength="61.92" lengthAdjust="spacingAndGlyphs" fill="#000">private_count</text>
<line x1="724.6" y1="890.34" x2="1007.2" y2="890.34" stroke="#666" stroke-width="0.9" stroke-dasharray="3.2 1.78" stroke-dashoffset="0.1"/>
<polyline points="736.02,828.34 740.15,831.09 743.73,826.96 747.58,833.3 751.16,828.34 754.74,829.72 758.6,827.79 762.73,827.79 766.31,831.09 769.89,829.72 774.02,833.85 777.32,828.34 781.46,831.09 785.04,828.34 788.89,831.09 792.47,828.34 796.05,833.85 799.91,835.22 803.49,830.54 807.07,831.64 810.37,831.92 814.5,829.72 818.63,833.85 821.94,835.22 825.52,830.27 829.1,830.27 832.95,831.92 836.53,828.89 840.11,830.27 843.97,832.47 847.55,831.09 851.13,835.22 854.98,835.22 858.56,831.09 862.14,832.47 869.58,825.59 873.16,828.34 880.6,833.02 884.18,828.89 888.03,836.05 891.61,830.54 895.74,831.09 899.05,832.47 902.63,832.47 906.21,834.4 910.06,831.09 913.64,827.79 917.22,826.14 921.08,819.53 924.66,817.88 928.24,813.74 932.09,814.57 935.67,815.4 939.25,815.12 943.11,819.53 946.69,814.57 950.27,808.24 954.12,811.27 957.71,809.61 961.29,812.37 965.14,814.02 968.72,810.99 972.3,812.37 979.74,812.64 987.17,813.74 990.75,815.95 994.33,813.74" fill="none" stroke="#f77189" stroke-width="1.45" stroke-linejoin="round" stroke-linecap="square"/>
<polyline points="736.02,871.03 740.15,868.82 744.28,873.78 747.58,873.78 751.71,868.82 755.29,876.53 758.6,868.82 762.73,878.46 769.89,882.59 774.02,867.45 777.88,869.65 781.46,870.47 785.04,869.65 788.89,878.46 792.47,884.79 796.05,875.71 799.91,877.08 803.49,872.95 807.07,869.65 811.2,869.65 814.5,875.16 818.08,882.59 821.94,878.46 825.52,882.59 829.1,875.16 832.95,872.4 836.53,867.45 840.11,868.27 843.97,866.34 847,884.79 851.13,865.52 854.98,867.45 858.56,872.4 862.14,871.03 866,872.4 869.58,878.46 873.16,868.27 877.02,865.52 880.6,869.65 884.18,878.46 888.03,872.4 891.61,871.03 895.19,861.39 899.05,871.58 902.63,875.71 906.76,877.91 910.06,884.79 913.64,876.53 917.22,866.07 921.08,857.81 924.66,864.14 928.24,854.5 932.09,862.76 935.67,857.81 939.25,856.71 943.11,863.31 946.69,853.95 950.27,861.39 954.12,857.81 957.71,855.05 961.29,852.57 965.14,848.44 968.72,853.12 972.3,850.37 976.16,853.12 979.74,852.57 983.32,859.18 987.17,858.08 990.75,859.18 994.33,860.84" fill="none" stroke="#3ba3ec" stroke-width="1.45" stroke-linejoin="round" stroke-linecap="square"/>
<rect x="724.6" y="688.3" width="282.6" height="251.3" fill="none" stroke="#444" stroke-width="1.25"/>
<path d="M721.44 939.6H724.6M721.44 885.31H724.6M721.44 831.04H724.6M721.44 776.78H724.6M721.44 722.51H724.6M737.6 939.6V942.76M759.43 939.6V942.76M781.63 939.6V942.76M803.46 939.6V942.76M825.66 939.6V942.76M847.61 939.6V942.76M869.81 939.6V942.76M891.64 939.6V942.76M913.84 939.6V942.76M935.67 939.6V942.76M957.87 939.6V942.76M979.7 939.6V942.76" stroke="#000" stroke-width="0.95" fill="none"/>
<path d="M722.8 923.26H724.6M722.8 913.7H724.6M722.8 906.91H724.6M722.8 901.65H724.6M722.8 897.35H724.6M722.8 893.72H724.6M722.8 890.57H724.6M722.8 887.79H724.6M722.8 868.97H724.6M722.8 859.42H724.6M722.8 852.64H724.6M722.8 847.38H724.6M722.8 843.08H724.6M722.8 839.45H724.6M722.8 836.3H724.6M722.8 833.52H724.6M722.8 814.71H724.6M722.8 805.15H724.6M722.8 798.37H724.6M722.8 793.11H724.6M722.8 788.82H724.6M722.8 785.18H724.6M722.8 782.04H724.6M722.8 779.26H724.6M722.8 760.44H724.6M722.8 750.89H724.6M722.8 744.11H724.6M722.8 738.85H724.6M722.8 734.55H724.6M722.8 730.92H724.6M722.8 727.77H724.6M722.8 724.99H724.6M722.8 706.17H724.6M722.8 696.62H724.6M722.8 689.84H724.6" stroke="#000" stroke-width="0.85" fill="none"/>
<text x="702.10" y="944.00" text-anchor="start" font-size="9.57" textLength="11.49" lengthAdjust="spacingAndGlyphs" fill="#000">10</text><text x="713.20" y="940.20" text-anchor="start" font-size="6.70" textLength="4.02" lengthAdjust="spacingAndGlyphs" fill="#000">0</text><text x="702.10" y="889.71" text-anchor="start" font-size="9.57" textLength="11.49" lengthAdjust="spacingAndGlyphs" fill="#000">10</text><text x="713.20" y="885.91" text-anchor="start" font-size="6.70" textLength="4.02" lengthAdjust="spacingAndGlyphs" fill="#000">1</text><text x="702.10" y="835.44" text-anchor="start" font-size="9.57" textLength="11.49" lengthAdjust="spacingAndGlyphs" fill="#000">10</text><text x="713.20" y="831.64" text-anchor="start" font-size="6.70" textLength="4.02" lengthAdjust="spacingAndGlyphs" fill="#000">2</text><text x="702.10" y="781.18" text-anchor="start" font-size="9.57" textLength="11.49" lengthAdjust="spacingAndGlyphs" fill="#000">10</text><text x="713.20" y="777.38" text-anchor="start" font-size="6.70" textLength="4.02" lengthAdjust="spacingAndGlyphs" fill="#000">3</text><text x="702.10" y="726.91" text-anchor="start" font-size="9.57" textLength="11.49" lengthAdjust="spacingAndGlyphs" fill="#000">10</text><text x="713.20" y="723.11" text-anchor="start" font-size="6.70" textLength="4.02" lengthAdjust="spacingAndGlyphs" fill="#000">4</text><text x="0.00" y="3.30" transform="translate(736.30,962.60) rotate(-45)" text-anchor="middle" font-size="9.57" textLength="37.73" lengthAdjust="spacingAndGlyphs" fill="#000">2018-01</text><text x="0.00" y="3.30" transform="translate(758.13,962.60) rotate(-45)" text-anchor="middle" font-size="9.57" textLength="37.73" lengthAdjust="spacingAndGlyphs" fill="#000">2018-07</text><text x="0.00" y="3.30" transform="translate(780.33,962.60) rotate(-45)" text-anchor="middle" font-size="9.57" textLength="37.73" lengthAdjust="spacingAndGlyphs" fill="#000">2019-01</text><text x="0.00" y="3.30" transform="translate(802.16,962.60) rotate(-45)" text-anchor="middle" font-size="9.57" textLength="37.73" lengthAdjust="spacingAndGlyphs" fill="#000">2019-07</text><text x="0.00" y="3.30" transform="translate(824.36,962.60) rotate(-45)" text-anchor="middle" font-size="9.57" textLength="37.73" lengthAdjust="spacingAndGlyphs" fill="#000">2020-01</text><text x="0.00" y="3.30" transform="translate(846.31,962.60) rotate(-45)" text-anchor="middle" font-size="9.57" textLength="37.73" lengthAdjust="spacingAndGlyphs" fill="#000">2020-07</text><text x="0.00" y="3.30" transform="translate(868.51,962.60) rotate(-45)" text-anchor="middle" font-size="9.57" textLength="37.73" lengthAdjust="spacingAndGlyphs" fill="#000">2021-01</text><text x="0.00" y="3.30" transform="translate(890.34,962.60) rotate(-45)" text-anchor="middle" font-size="9.57" textLength="37.73" lengthAdjust="spacingAndGlyphs" fill="#000">2021-07</text><text x="0.00" y="3.30" transform="translate(912.54,962.60) rotate(-45)" text-anchor="middle" font-size="9.57" textLength="37.73" lengthAdjust="spacingAndGlyphs" fill="#000">2022-01</text><text x="0.00" y="3.30" transform="translate(934.37,962.60) rotate(-45)" text-anchor="middle" font-size="9.57" textLength="37.73" lengthAdjust="spacingAndGlyphs" fill="#000">2022-07</text><text x="0.00" y="3.30" transform="translate(956.57,962.60) rotate(-45)" text-anchor="middle" font-size="9.57" textLength="37.73" lengthAdjust="spacingAndGlyphs" fill="#000">2023-01</text><text x="0.00" y="3.30" transform="translate(978.40,962.60) rotate(-45)" text-anchor="middle" font-size="9.57" textLength="37.73" lengthAdjust="spacingAndGlyphs" fill="#000">2023-07</text>
<text x="865.90" y="681.90" text-anchor="middle" font-size="11.66" textLength="43.13" lengthAdjust="spacingAndGlyphs" fill="#000">Georgia</text>
<text x="865.50" y="990.90" text-anchor="middle" font-size="9.57" textLength="29.31" lengthAdjust="spacingAndGlyphs" fill="#000">month</text>
<text x="0.00" y="0.00" transform="translate(695.10,815.15) rotate(-90)" text-anchor="middle" font-size="9.57" textLength="61.92" lengthAdjust="spacingAndGlyphs" fill="#000">private_count</text>
<rect x="899.1" y="7.6" width="115.5" height="71.7" rx="2" ry="2" fill="#fff" fill-opacity="0.8" stroke="#ccc" stroke-opacity="0.8" stroke-width="0.72"/>
<text x="956.60" y="18.20" text-anchor="middle" font-size="9.57" textLength="72.76" lengthAdjust="spacingAndGlyphs" fill="#000">Number of edits</text>
<line x1="902" y1="28.8" x2="921.6" y2="28.8" stroke="#f77189" stroke-width="1.5"/>
<text x="928.80" y="31.90" text-anchor="start" font-size="9.57" textLength="26.30" lengthAdjust="spacingAndGlyphs" fill="#000">1 to 4</text>
<line x1="902" y1="42" x2="921.6" y2="42" stroke="#50b131" stroke-width="1.5"/>
<text x="928.80" y="45.10" text-anchor="start" font-size="9.57" textLength="55.60" lengthAdjust="spacingAndGlyphs" fill="#000">100 or more</text>
<line x1="902" y1="55.9" x2="921.6" y2="55.9" stroke="#3ba3ec" stroke-width="1.5"/>
<text x="928.80" y="59.00" text-anchor="start" font-size="9.57" textLength="32.04" lengthAdjust="spacingAndGlyphs" fill="#000">5 to 99</text>
<line x1="902" y1="70.4" x2="921.6" y2="70.4" stroke="#555" stroke-width="1.0" stroke-dasharray="3.2 1.75" stroke-dashoffset="-1.2"/>
<text x="928.80" y="73.50" text-anchor="start" font-size="9.57" textLength="80.68" lengthAdjust="spacingAndGlyphs" fill="#000">Release threshold</text>
</g>
</svg></body></html>
